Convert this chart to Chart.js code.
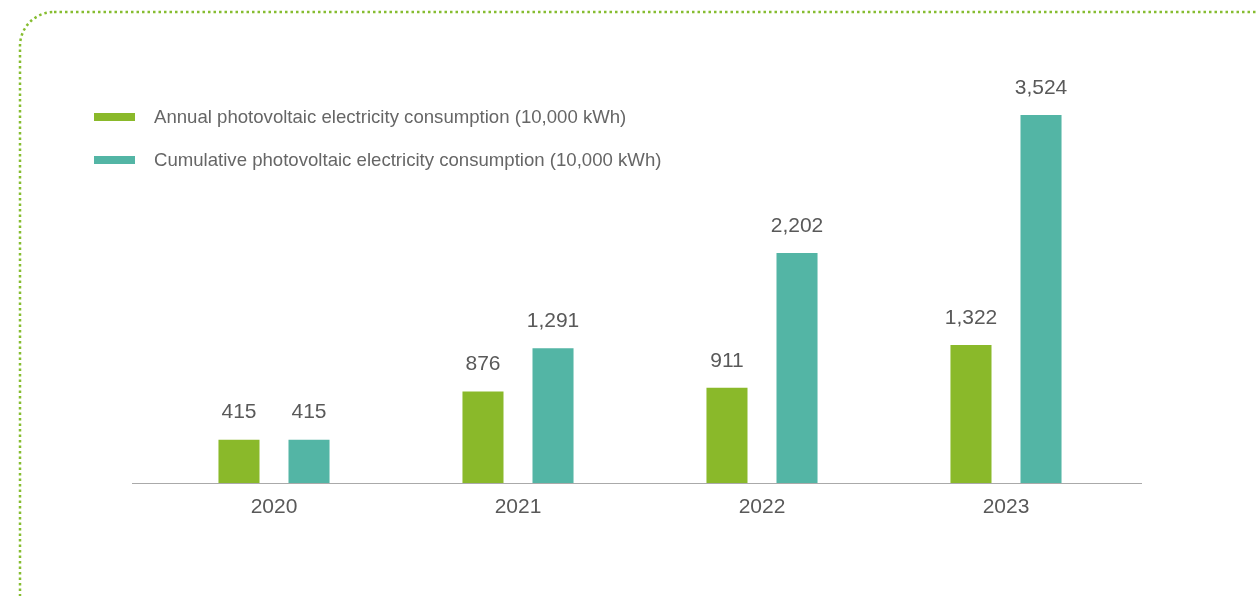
<!DOCTYPE html>
<html>
<head>
<meta charset="utf-8">
<script src="https://cdn.jsdelivr.net/npm/chart.js@4"></script>
<style>
  html, body { margin: 0; padding: 0; background: #fff; overflow: hidden; }
  #wrap { position: relative; width: 1258px; height: 596px; }
  #legend { position: absolute; left: 94px; top: 105px; font-family: "Liberation Sans", Arial, sans-serif; font-size: 18.6px; color: #666; }
  #legend .row { display: flex; align-items: center; height: 24px; margin-bottom: 19px; }
  #legend .sw { width: 41px; height: 8px; margin-right: 19px; }
</style>
</head>
<body>
<div id="wrap">
  <canvas id="myChart" width="1258" height="596"></canvas>
  <div id="legend"></div>
</div>
<script>
var years = ['2020', '2021', '2022', '2023'];
var annual = [415, 876, 911, 1322];
var cumulative = [415, 1291, 2202, 3524];
var seriesNames = ['Annual photovoltaic electricity consumption (10,000 kWh)', 'Cumulative photovoltaic electricity consumption (10,000 kWh)'];
var colors = ['#8ab92a', '#53b5a5'];

// legend in html
var legend = document.getElementById('legend');
seriesNames.forEach((name, i) => {
  var row = document.createElement('div');
  row.className = 'row';
  row.innerHTML = '<span class="sw" style="background:' + colors[i] + '"></span><span>' + name + '</span>';
  legend.appendChild(row);
});

var frame = {
  id: 'frame',
  beforeDraw(chart) {
    var ctx = chart.ctx;
    ctx.save();
    ctx.strokeStyle = '#86bd30';
    ctx.lineWidth = 2.5;
    ctx.setLineDash([2.5, 3]);
    ctx.beginPath();
    ctx.roundRect(20, 12, 1300, 640, 34);
    ctx.stroke();
    ctx.restore();
  },
  afterDatasetsDraw(chart) {
    var ctx = chart.ctx, a = chart.chartArea;
    ctx.save();
    ctx.strokeStyle = '#aaaaaa';
    ctx.lineWidth = 1;
    ctx.beginPath();
    ctx.moveTo(a.left - 20, a.bottom + 0.5);
    ctx.lineTo(a.right + 14, a.bottom + 0.5);
    ctx.stroke();
    // value labels
    ctx.fillStyle = '#595959';
    ctx.font = '21px "Liberation Sans", Arial, sans-serif';
    ctx.textAlign = 'center';
    ctx.textBaseline = 'middle';
    chart.data.datasets.forEach((ds, i) => {
      chart.getDatasetMeta(i).data.forEach((bar, j) => {
        ctx.fillText(ds.data[j].toLocaleString('en-US'), bar.x, bar.y - 27);
      });
    });
    ctx.restore();
  }
};

var ctx = document.getElementById('myChart').getContext('2d');
var chart = new Chart(ctx, {
  type: 'bar',
  data: {
    labels: years,
    datasets: [
      { label: seriesNames[0], data: annual, backgroundColor: colors[0] },
      { label: seriesNames[1], data: cumulative, backgroundColor: colors[1] }
    ]
  },
  options: {
    responsive: false,
    animation: false,
    layout: { padding: { left: 152, right: 130, top: 40, bottom: 0 } },
    datasets: { bar: { barPercentage: 0.586, categoryPercentage: 0.574 } },
    plugins: { legend: { display: false }, tooltip: { enabled: false } },
    scales: {
      x: {
        grid: { display: false, drawTicks: false },
        border: { display: false },
        ticks: { color: '#595959', padding: 12, font: { size: 21, family: '"Liberation Sans", Arial, sans-serif' } },
        afterFit: function(scale) { scale.height = 113; }
      },
      y: { display: false, min: 0, max: 4242 }
    }
  },
  plugins: [frame]
});
</script>
</body>
</html>
